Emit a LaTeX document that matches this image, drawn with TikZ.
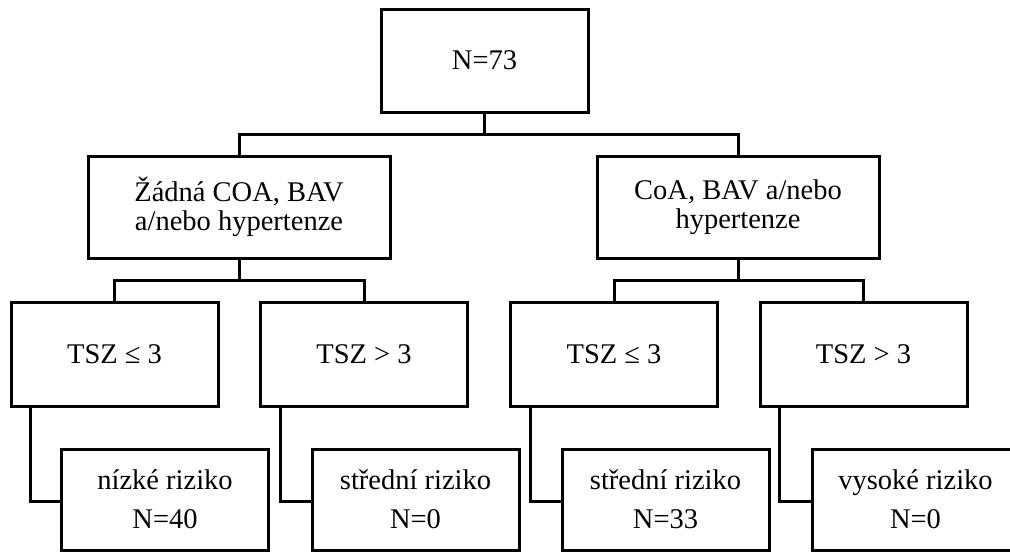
\documentclass[tikz,border=0pt]{standalone}
\usepackage{fontspec}
\setmainfont{Liberation Serif}
\begin{document}
\begin{tikzpicture}[x=1pt,y=-1pt,
  box/.style={draw=black,line width=3pt,align=center,inner sep=0pt,
    font=\fontsize{28.5}{29}\selectfont,minimum height=103pt},
  twoline/.style={font=\fontsize{28.5}{29}\selectfont},
  leaf/.style={font=\fontsize{28.5}{39}\selectfont,minimum height=101pt},
  conn/.style={draw=black,line width=3pt}]
\useasboundingbox (0,0) rectangle (1010,552);
% row 1
\node[box,minimum width=207pt] (top) at (484.5,60.7) {N=73};
% row 2
\node[box,twoline,minimum width=302pt,minimum height=102pt] (ga) at (239,207) {Žádná COA, BAV\\a/nebo hypertenze};
\node[box,twoline,minimum width=282pt,minimum height=102pt] (gb) at (738,207) {CoA, BAV a/nebo\\hypertenze};
% row 3
\node[box,minimum width=207pt,minimum height=104pt] (ta) at (114.5,354) {TSZ ≤ 3};
\node[box,minimum width=207pt,minimum height=104pt] (tb) at (364,354) {TSZ > 3};
\node[box,minimum width=207pt,minimum height=104pt] (tc) at (614,354) {TSZ ≤ 3};
\node[box,minimum width=207pt,minimum height=104pt] (td) at (863.5,354) {TSZ > 3};
% row 4
\node[box,leaf,minimum width=207pt] (ra) at (165,499.5) {nízké riziko\\N=40};
\node[box,leaf,minimum width=207pt] (rb) at (415.5,499.5) {střední riziko\\N=0};
\node[box,leaf,minimum width=207pt] (rc) at (665.5,499.5) {střední riziko\\N=33};
\node[box,leaf,minimum width=207pt] (rd) at (915.5,499.5) {vysoké riziko\\N=0};
% junctions
\coordinate (j1) at (484.5,134);
\coordinate (j2) at (239,280.7);
\coordinate (j3) at (738,280.7);
\draw[conn] (top.south) -- (j1);
\draw[conn] (ga.north) |- (j1) -| (gb.north);
\draw[conn] (ga.south) -- (j2);
\draw[conn] (ta.north) |- (j2) -| (tb.north);
\draw[conn] (gb.south) -- (j3);
\draw[conn] (tc.north) |- (j3) -| (td.north);
% to leaves
\draw[conn] ([xshift=21pt]ta.south west) |- ([yshift=-1.5pt]ra.west);
\draw[conn] ([xshift=21pt]tb.south west) |- ([yshift=-1.5pt]rb.west);
\draw[conn] ([xshift=21pt]tc.south west) |- ([yshift=-1.5pt]rc.west);
\draw[conn] ([xshift=21pt]td.south west) |- ([yshift=-1.5pt]rd.west);
\end{tikzpicture}
\end{document}
